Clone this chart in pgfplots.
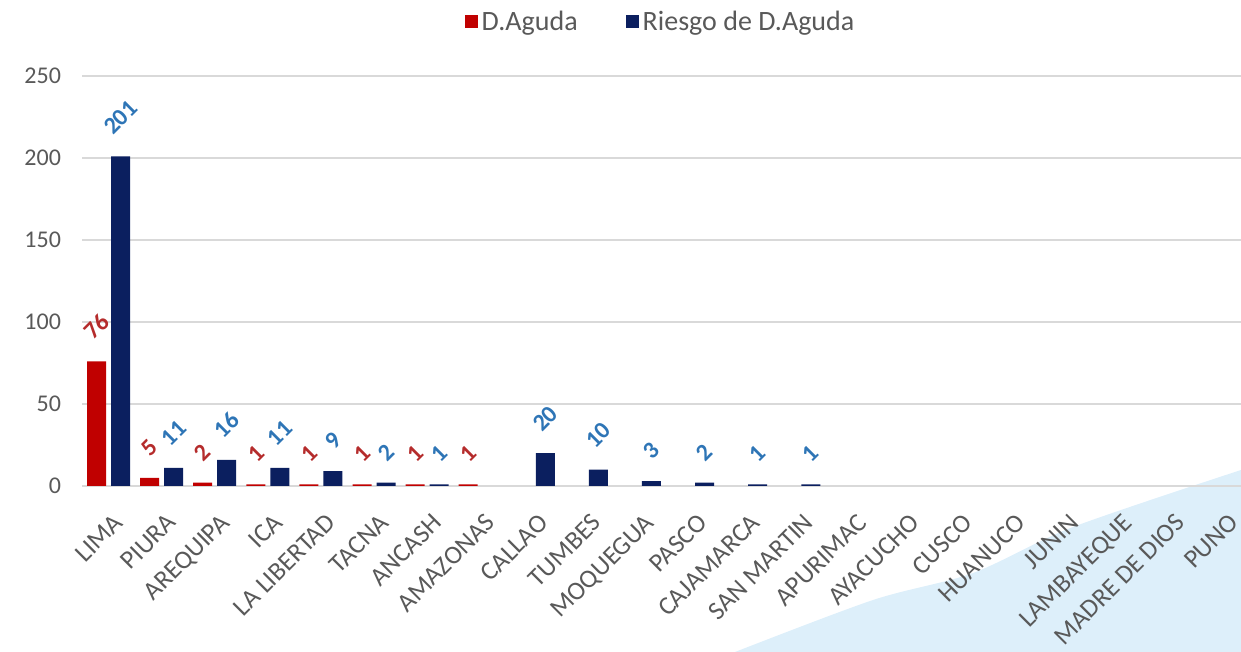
\documentclass[border=0pt]{standalone}
\usepackage{fontspec}
\setmainfont{Carlito}
\usepackage{graphicx}
\usepackage{pgfplots}
\pgfplotsset{compat=1.18}

\definecolor{barred}{HTML}{C00000}
\definecolor{barnavy}{HTML}{0B1F5F}
\definecolor{lblred}{HTML}{B52C2C}
\definecolor{lblblue}{HTML}{2E75B6}
\definecolor{txtgray}{HTML}{595959}
\definecolor{gridgray}{HTML}{D9D9D9}
\definecolor{swoosh}{HTML}{DDEFFA}

\begin{document}
\begin{tikzpicture}
\useasboundingbox (-41pt,-83pt) rectangle (579.5pt,243pt);
% slide decoration behind the chart
\fill[swoosh] plot[smooth] coordinates {(326.5pt,-83pt) (395.5pt,-57pt) (445.5pt,-43.5pt) (495.5pt,-20.5pt) (579.5pt,8pt)} -- (579.5pt,-83pt) -- cycle;

\begin{axis}[
  ybar=2.5pt, bar width=9.5pt,
  scale only axis, width=579.5pt, height=205pt,
  xmin=-0.5, xmax=21.33, ymin=0, ymax=250,
  ytick={0,50,...,250},
  xtick={0,...,21},
  xticklabels={LIMA, PIURA, AREQUIPA, ICA, LA LIBERTAD, TACNA, ANCASH, AMAZONAS, CALLAO, TUMBES, MOQUEGUA, PASCO, CAJAMARCA, SAN MARTIN, APURIMAC, AYACUCHO, CUSCO, HUANUCO, JUNIN, LAMBAYEQUE, MADRE DE DIOS, PUNO},
  axis line style={draw=none},
  major tick length=0pt,
  ymajorgrids, grid style={gridgray, line width=0.6pt},
  /pgf/number format/assume math mode=true,
  yticklabel style={font=\fontsize{12}{12}\selectfont, text=txtgray, xshift=-7pt},
  xticklabel style={font=\fontsize{13}{13}\selectfont, text=txtgray, anchor=north east, inner sep=0pt, yshift=-13pt, xshift=2pt, rotate=45},
  nodes near coords={\rotatebox{45}{\pgfmathprintnumber\pgfplotspointmeta}},
  every node near coord/.append style={font=\bfseries\fontsize{12}{12}\selectfont, anchor=south, inner sep=0pt, yshift=10pt},
  legend style={at={(0.5,1)}, anchor=center, yshift=27pt, draw=none, fill=none,
    legend columns=-1, font=\fontsize{14}{14}\selectfont, text=txtgray,
    /tikz/every even column/.append style={column sep=22pt}},
  legend image code/.code={\fill[#1] (0pt,-3.25pt) rectangle (6.5pt,3.25pt);},
]
\addplot[fill=barred, draw=none, every node near coord/.append style={text=lblred}]
  coordinates {(0,76) (1,5) (2,2) (3,1) (4,1) (5,1) (6,1) (7,1)};
\addplot[fill=barnavy, draw=none, every node near coord/.append style={text=lblblue}]
  coordinates {(0,201) (1,11) (2,16) (3,11) (4,9) (5,2) (6,1) (8,20) (9,10) (10,3) (11,2) (12,1) (13,1)};
\legend{D.Aguda, Riesgo de D.Aguda}
\end{axis}
\end{tikzpicture}
\end{document}
